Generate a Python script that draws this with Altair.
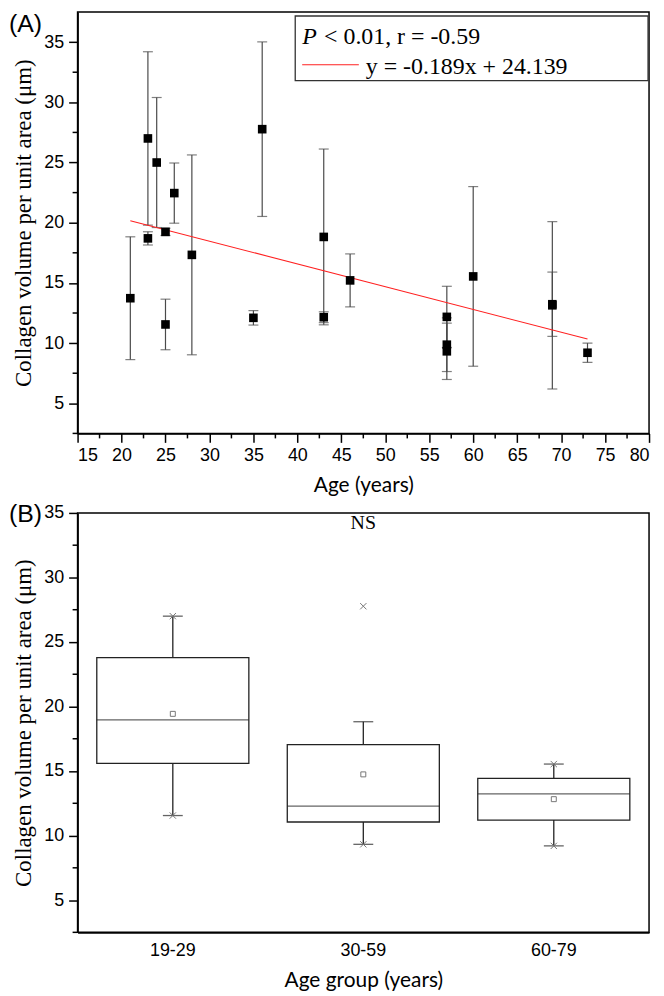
import altair as alt
import pandas as pd

# ---------------- Panel A data ----------------
ages = [21, 23, 23, 24, 25, 25, 26, 28, 35, 36, 43, 43, 46, 57, 57, 57, 60, 69, 69, 73]
collagen = [13.73, 27.0, 18.7, 25.0, 19.24, 11.55, 22.46, 17.33, 12.1, 27.77,
            18.82, 12.15, 15.21, 12.18, 9.87, 9.32, 15.54, 13.14, 13.23, 9.2]
sd = [5.1, 7.2, 0.55, 5.4, 0.3, 2.1, 2.5, 8.3, 0.6, 7.25,
      7.3, 0.45, 2.2, 2.54, 2.23, 2.34, 7.46, 6.95, 2.67, 0.8]
fit_x = [21, 73]
fit_y = [20.17, 10.34]

x_major = [15, 20, 25, 30, 35, 40, 45, 50, 55, 60, 65, 70, 75, 80]
x_minor = [17.5, 22.5, 27.5, 32.5, 37.5, 42.5, 47.5, 52.5, 57.5, 62.5, 67.5, 72.5, 77.5]
yA_major = [5, 10, 15, 20, 25, 30, 35]
yA_minor = [2.5, 7.5, 12.5, 17.5, 22.5, 27.5, 32.5]

# ---------------- Panel B data ----------------
groups = ["19-29", "30-59", "60-79"]
q1 = [15.6, 11.05, 11.2]
median = [18.97, 12.28, 13.23]
q3 = [23.79, 17.05, 14.43]
whisk_lo = [11.55, 9.32, 9.2]
whisk_hi = [27.0, 18.82, 15.54]
group_mean = [19.43, 14.74, 12.82]
ext_group = ["19-29", "19-29", "30-59", "30-59", "60-79", "60-79"]
ext_value = [27.0, 11.55, 27.77, 9.32, 15.54, 9.2]
yB_major = [5, 10, 15, 20, 25, 30, 35]
yB_minor = [2.5, 7.5, 12.5, 17.5, 22.5, 27.5, 32.5]

W = 575
HA = 424
HB = 422

YTITLE = "Collagen volume per unit area (μm)"
SERIF = "Liberation Serif"
SANS = "Liberation Sans"
LABSIZE = 18

def yaxis(values):
    return alt.Axis(values=values, title=YTITLE, titleFont=SERIF, titleFontSize=23,
                    titleFontWeight="normal", titleColor="black", titlePadding=8,
                    labelFont=SANS, labelFontSize=LABSIZE, labelColor="black",
                    tickSize=9, labelPadding=5, grid=False, format="d")

def xA(field):
    return alt.X(field, type="quantitative",
                 scale=alt.Scale(domain=[15, 80], nice=False, zero=False),
                 axis=alt.Axis(values=x_major, title="Age (years)", titleFont="Lato",
                               titleFontSize=21, titleFontWeight="normal", titleColor="black",
                               labelFont=SANS, labelFontSize=LABSIZE, labelColor="black",
                               titlePadding=10, tickSize=9, labelPadding=4, grid=False, format="d"))

def yA(field):
    return alt.Y(field, type="quantitative",
                 scale=alt.Scale(domain=[2.5, 37.5], nice=False, zero=False),
                 axis=yaxis(yA_major))

dfA = pd.DataFrame({"age": ages, "val": collagen, "sd": sd})
dfA["lo"] = dfA["val"] - dfA["sd"]
dfA["hi"] = dfA["val"] + dfA["sd"]
dfFit = pd.DataFrame({"age": fit_x, "val": fit_y})
dfXminor = pd.DataFrame({"age": x_minor})
dfYAminor = pd.DataFrame({"val": yA_minor})
one = pd.DataFrame({"k": [0]})

ERR = "#4a4a4a"

bars = alt.Chart(dfA).mark_rule(color=ERR, strokeWidth=1.2).encode(x=xA("age"), y=yA("lo"), y2="hi")
cap_lo = alt.Chart(dfA).mark_tick(orient="horizontal", size=10, thickness=1.2, color=ERR).encode(x=xA("age"), y=yA("lo"))
cap_hi = alt.Chart(dfA).mark_tick(orient="horizontal", size=10, thickness=1.2, color=ERR).encode(x=xA("age"), y=yA("hi"))
fit = alt.Chart(dfFit).mark_line(color="#ff2020", strokeWidth=1.1).encode(x=xA("age"), y=yA("val"))
pts = alt.Chart(dfA).mark_square(size=75, color="black", opacity=1).encode(x=xA("age"), y=yA("val"))
xmin_ticks = alt.Chart(dfXminor).mark_rule(color="black", strokeWidth=1.5).encode(
    x=xA("age"), y=alt.value(HA), y2=alt.value(HA + 5))
yminA_ticks = alt.Chart(dfYAminor).mark_rule(color="black", strokeWidth=1.5).encode(
    y=yA("val"), x=alt.value(-5), x2=alt.value(0))

leg_box = alt.Chart(one).mark_rect(fill="white", stroke="#333333", strokeWidth=1.3).encode(
    x=alt.value(219), x2=alt.value(574), y=alt.value(4), y2=alt.value(69))
leg_P = alt.Chart(one).mark_text(text="P", font=SERIF, fontSize=24, fontStyle="italic",
                                 align="left", baseline="alphabetic", color="black").encode(
    x=alt.value(226), y=alt.value(32))
leg_t1 = alt.Chart(one).mark_text(text="< 0.01, r = -0.59", font=SERIF, fontSize=24,
                                  align="left", baseline="alphabetic", color="black").encode(
    x=alt.value(248), y=alt.value(32))
leg_line = alt.Chart(one).mark_rule(color="#ff2020", strokeWidth=1.1).encode(
    x=alt.value(226), x2=alt.value(283), y=alt.value(53))
leg_t2 = alt.Chart(one).mark_text(text="y = -0.189x + 24.139", font=SERIF, fontSize=24,
                                  align="left", baseline="alphabetic", color="black").encode(
    x=alt.value(290), y=alt.value(62))
labA = alt.Chart(one).mark_text(text="(A)", font=SANS, fontSize=25, align="left",
                                baseline="top", color="black").encode(
    x=alt.value(-69), y=alt.value(0))

panelA = alt.layer(xmin_ticks, yminA_ticks, bars, cap_lo, cap_hi, fit, pts,
                   leg_box, leg_P, leg_t1, leg_line, leg_t2, labA).properties(width=W, height=HA)

# ---------------- Panel B ----------------
def xB(field):
    return alt.X(field, type="nominal",
                 scale=alt.Scale(domain=groups, paddingInner=0, paddingOuter=0),
                 axis=alt.Axis(title="Age group (years)", titleFont="Lato", titleFontSize=21,
                               titleFontWeight="normal", titleColor="black", titlePadding=10,
                               labelFont=SANS, labelFontSize=LABSIZE, labelColor="black",
                               labelAngle=0, ticks=False, labelPadding=9, grid=False))

def yB(field):
    return alt.Y(field, type="quantitative",
                 scale=alt.Scale(domain=[2.5, 35], nice=False, zero=False),
                 axis=yaxis(yB_major))

dfB = pd.DataFrame({"group": groups, "q1": q1, "med": median, "q3": q3,
                    "lo": whisk_lo, "hi": whisk_hi, "mean": group_mean})
dfExt = pd.DataFrame({"group": ext_group, "v": ext_value})
dfYBminor = pd.DataFrame({"v": yB_minor})
dfNS = pd.DataFrame({"group": ["30-59"], "v": [34.25], "t": ["NS"]})

BOX = "#222222"
w_lo = alt.Chart(dfB).mark_rule(color=BOX, strokeWidth=1.3).encode(x=xB("group"), y=yB("lo"), y2="q1")
w_hi = alt.Chart(dfB).mark_rule(color=BOX, strokeWidth=1.3).encode(x=xB("group"), y=yB("q3"), y2="hi")
box = alt.Chart(dfB).mark_bar(fill="white", stroke=BOX, strokeWidth=1.3, size=153).encode(
    x=xB("group"), y=yB("q1"), y2="q3")
med = alt.Chart(dfB).mark_tick(size=153, thickness=1.3, color=BOX).encode(x=xB("group"), y=yB("med"))
c_lo = alt.Chart(dfB).mark_tick(size=20, thickness=1.3, color=BOX).encode(x=xB("group"), y=yB("lo"))
c_hi = alt.Chart(dfB).mark_tick(size=20, thickness=1.3, color=BOX).encode(x=xB("group"), y=yB("hi"))
mean_pt = alt.Chart(dfB).mark_point(shape="square", size=25, filled=False, color="#777777",
                                    strokeWidth=1, opacity=1).encode(x=xB("group"), y=yB("mean"))
ext_pt = alt.Chart(dfExt).mark_point(shape="M-1,-1L1,1M-1,1L1,-1", size=40, filled=False,
                                     color="#777777", strokeWidth=1, opacity=1).encode(
    x=xB("group"), y=yB("v"))
ns = alt.Chart(dfNS).mark_text(font=SERIF, fontSize=20, color="black", baseline="middle").encode(
    x=xB("group"), y=yB("v"), text="t:N")
yminB_ticks = alt.Chart(dfYBminor).mark_rule(color="black", strokeWidth=1.5).encode(
    y=yB("v"), x=alt.value(-5), x2=alt.value(0))
labB = alt.Chart(one).mark_text(text="(B)", font=SANS, fontSize=25, align="left",
                                baseline="middle", color="black").encode(
    x=alt.value(-69), y=alt.value(1))

panelB = alt.layer(yminB_ticks, w_lo, w_hi, box, med, c_lo, c_hi, mean_pt, ext_pt, ns, labB
                   ).properties(width=W, height=HB)

chart = alt.vconcat(panelA, panelB, spacing=80, bounds="flush").properties(
    padding={"left": 0, "top": 0, "right": 5, "bottom": 0}
).configure_view(stroke="black", strokeWidth=1.5).configure_axis(
    tickColor="black", tickWidth=1.5, domainColor="black", domainWidth=1.6
)

chart.save("out.html", embed_options={"renderer": "svg", "actions": False})
